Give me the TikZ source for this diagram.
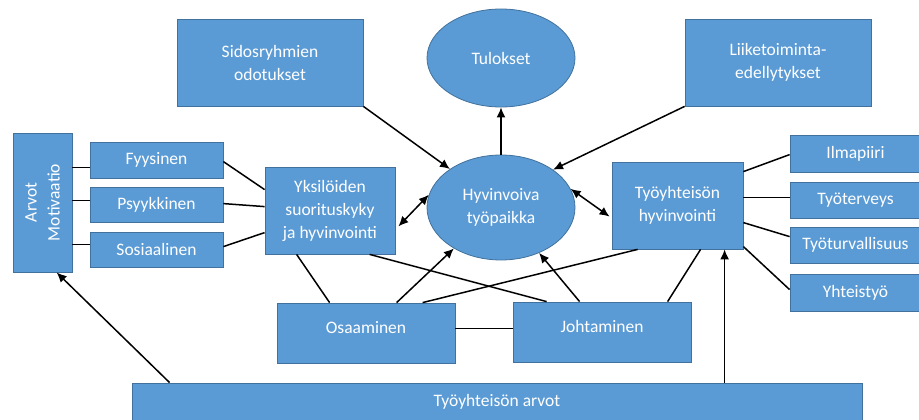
\documentclass[tikz,border=0pt]{standalone}
\usepackage{fontspec}
\setmainfont{Carlito}
\usetikzlibrary{shapes.geometric,arrows.meta,calc}
\definecolor{boxfill}{HTML}{5B9BD5}
\definecolor{boxline}{HTML}{41719C}
\begin{document}
\begin{tikzpicture}[x=1pt,y=-1pt,
  every node/.style={font=\fontsize{17.5}{23}\selectfont, text=white, align=center},
  box/.style={rectangle, draw=boxline, fill=boxfill, line width=0.8pt, inner sep=0pt},
  oval/.style={ellipse, draw=boxline, fill=boxfill, line width=0.8pt, inner sep=0pt},
  link/.style={draw=black, line width=1.5pt},
  arr/.style={link, -{Latex[length=10pt,width=9pt]}},
  darr/.style={link, {Latex[length=10pt,width=9pt]}-{Latex[length=10pt,width=9pt]}}]
\useasboundingbox (0,0) rectangle (919,420);

% left column: values and the three dimensions of the individual
\node[box, minimum width=59pt, minimum height=139pt] (arvotmot) at (42.5,202.5) {};
\node[rotate=90] (arvotmottxt) at (arvotmot.center) {Arvot\\Motivaatio};
\node[box, minimum width=133pt, minimum height=36pt] (fyys) at (156.5,160) {Fyysinen};
\node[box, minimum width=133pt, minimum height=35pt] (psyk) at (156.5,204.5) {Psyykkinen};
\node[box, minimum width=133pt, minimum height=35pt] (sos) at (156.5,249.5) {Sosiaalinen};
\node[box, minimum width=130pt, minimum height=87pt] (yks) at (330,210.5) {Yksilöiden\\suorituskyky\\ja hyvinvointi};

% top row
\node[box, minimum width=186pt, minimum height=87pt] (sid) at (270,62.5) {Sidosryhmien\\odotukset};
\node[oval, minimum width=148pt, minimum height=98pt] (tul) at (501,58) {Tulokset};
\node[box, minimum width=186pt, minimum height=87pt] (lii) at (778,62.5) {Liiketoiminta-\\edellytykset};

% centre
\node[oval, minimum width=148pt, minimum height=105pt] (hyv) at (501,207.5) {Hyvinvoiva\\työpaikka};
\node[box, minimum width=131pt, minimum height=87pt] (tyh) at (677.5,205.5) {Työyhteisön\\hyvinvointi};

% right column
\node[box, minimum width=131pt, minimum height=37pt] (ilma) at (855.5,153.5) {Ilmapiiri};
\node[box, minimum width=131pt, minimum height=36pt] (tter) at (855.5,200) {Työterveys};
\node[box, minimum width=131pt, minimum height=36pt] (ttur) at (855.5,245) {Työturvallisuus};
\node[box, minimum width=131pt, minimum height=37pt] (yht) at (855.5,292.5) {Yhteistyö};

% bottom
\node[box, minimum width=178pt, minimum height=60pt, text depth=11pt] (osa) at (366,333) {Osaaminen};
\node[box, minimum width=178pt, minimum height=60pt, text depth=12pt] (joh) at (602,332) {Johtaminen};
\node[box, minimum width=730pt, minimum height=38pt] (arv) at (497,402) {Työyhteisön arvot};

% values to the three dimensions
\draw[link] ($(arvotmot.north east)+(0,35)$) -- ($(fyys.north west)+(0,26)$);
\draw[link] ($(arvotmot.north east)+(0,68)$) -- ($(psyk.north west)+(0,14)$);
\draw[link] ($(arvotmot.north east)+(0,112)$) -- ($(sos.north west)+(0,13)$);
% dimensions to the individual
\draw[link] ($(fyys.north east)+(0,20)$) -- ($(yks.north west)+(0,23)$);
\draw[link] ($(psyk.north east)+(0,17)$) -- ($(yks.north west)+(0,40)$);
\draw[link] ($(sos.north east)+(0,15)$) -- ($(yks.north west)+(0,66)$);

% around the central ellipse
\draw[darr] ($(yks.south east)+(3,-28)$) -- (hyv.170);
\draw[arr] (sid.south east) -- (hyv.143);
\draw[arr] (lii.south west) -- (hyv.36);
\draw[arr] (hyv.north) -- (tul.south);
\draw[darr] (hyv.15) -- ($(tyh.north west)+(-2,55)$);

% community well-being to its factors
\draw[link] ($(tyh.north east)+(0,10)$) -- ($(ilma.north west)+(0,20)$);
\draw[link] ($(tyh.north east)+(0,36)$) -- ($(tter.north west)+(0,16)$);
\draw[link] ($(tyh.north east)+(0,61)$) -- ($(ttur.north west)+(0,10)$);
\draw[link] ($(tyh.north east)+(0,85)$) -- ($(yht.north west)+(0,16)$);

% competence and leadership
\draw[link] ($(yks.south west)+(32,0)$) -- ($(osa.north west)+(53,0)$);
\draw[link] ($(yks.south west)+(105,0)$) -- ($(joh.north west)+(34,0)$);
\draw[arr] ($(osa.north west)+(120,0)$) -- (hyv.221);
\draw[link] ($(osa.north west)+(146,0)$) -- ($(tyh.south west)+(26,0)$);
\draw[link] ($(osa.north east)+(0,26)$) -- ($(joh.north west)+(0,27)$);
\draw[arr] ($(joh.north west)+(67,0)$) -- (hyv.310);
\draw[link] ($(joh.north west)+(155,0)$) -- ($(tyh.south west)+(89,0)$);

% shared values upwards
\draw[arr] ($(arv.north west)+(593,0)$) -- ($(tyh.south west)+(113,0)$);
\draw[arr] ($(arv.north west)+(38,0)$) -- ($(arvotmot.south west)+(44,0)$);
\end{tikzpicture}
\end{document}
